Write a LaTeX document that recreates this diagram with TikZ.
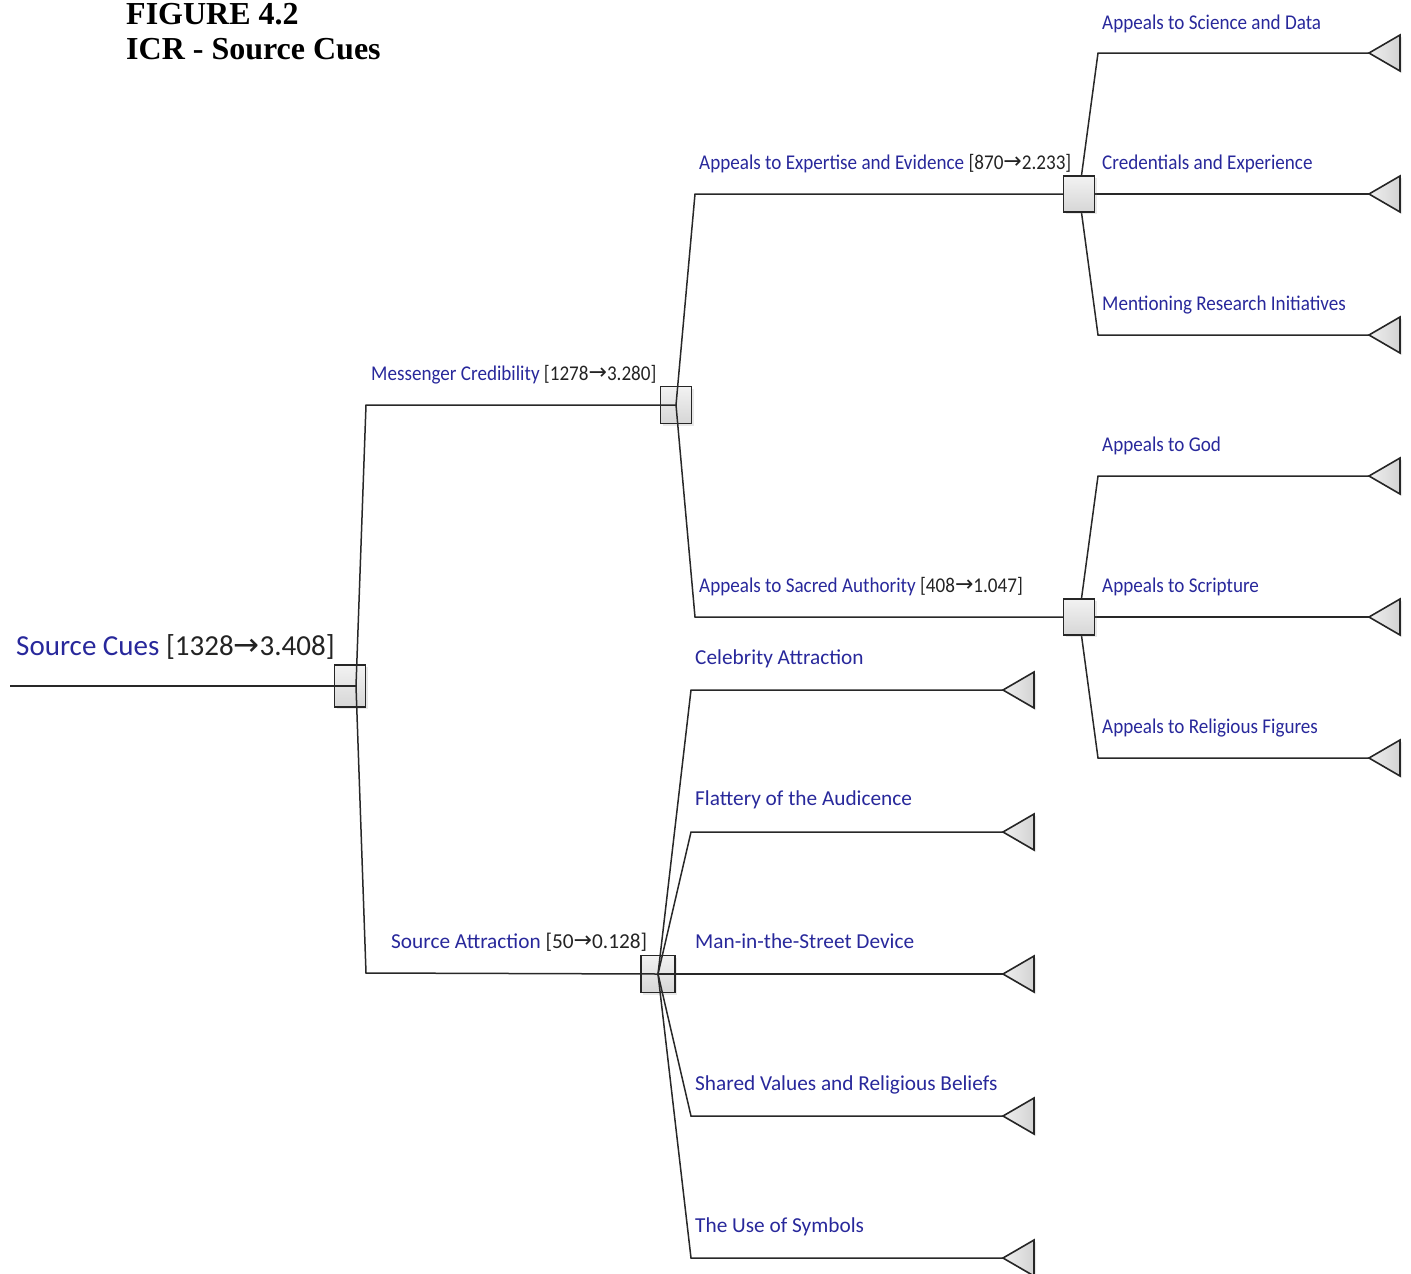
\documentclass[tikz,border=0pt]{standalone}
\usepackage{fontspec}
\setmainfont{Liberation Serif}
\newfontfamily\lab{Carlito}
\newfontfamily\labn[FakeStretch=0.91]{Carlito}
\newfontfamily\arr{DejaVu Sans}
\usetikzlibrary{shadows}
\definecolor{lblue}{RGB}{40,40,155}
\definecolor{lnum}{RGB}{35,35,35}
\definecolor{lnline}{RGB}{40,40,40}
\pgfdeclarelayer{front}
\pgfsetlayers{main,front}
\newcommand{\ar}{{\arr\fontsize{22}{22}\selectfont\raisebox{0.5pt}{→}}}
\tikzset{
  conn/.style={draw=lnline, line width=1.5pt},
  dbox/.style={draw=black!85, line width=1.5pt, top color=gray!10, bottom color=gray!32,
     minimum width=31pt, minimum height=37pt, inner sep=0pt,
     drop shadow={opacity=0.18, shadow xshift=2pt, shadow yshift=-2pt}},
  leaf/.style={draw=black!85, line width=1.6pt, left color=gray!12, right color=gray!35,
     drop shadow={opacity=0.18, shadow xshift=2pt, shadow yshift=-2pt}},
  nlab/.style={anchor=base west, inner sep=0pt, text=lblue, font=\labn\fontsize{21}{21}\selectfont},
  wlab/.style={anchor=base west, inner sep=0pt, text=lblue, font=\lab\fontsize{21.3}{21}\selectfont},
}
\newcommand{\num}[1]{\textcolor{lnum}{#1}}
\begin{document}
\begin{tikzpicture}[x=1pt,y=-1pt]
\useasboundingbox (0,0) rectangle (1411,1274);
% title
\node[anchor=base west, inner sep=0pt, font=\bfseries\fontsize{32}{32}\selectfont] (t1) at (126,24) {FIGURE 4.2};
\node[anchor=base west, inner sep=0pt, font=\bfseries\fontsize{32}{32}\selectfont] (t2) at (126,59) {ICR - Source Cues};

% decision boxes drawn under their connectors
\node[dbox, minimum height=42pt] (root) at (350,686) {};
\node[dbox] (mc) at (676,405) {};
\node[dbox, minimum width=34pt] (sa) at (658,974) {};
% decision boxes drawn over their connectors
\begin{pgfonlayer}{front}
\node[dbox, minimum height=36pt] (ex) at (1079,194) {};
\node[dbox, minimum height=36pt] (sc) at (1079,617) {};
\end{pgfonlayer}

% leaf tips
\foreach \n/\x/\y in {l1/1369/53, l2/1369/194, l3/1369/335, l4/1369/476, l5/1369/617, l6/1369/758,
                      m1/1003/690, m2/1003/832, m3/1003/974, m4/1003/1116, m5/1003/1258}{
  \coordinate (\n) at (\x,\y);
  \draw[leaf] (\n) -- ++(31,-18) -- ++(0,36) -- cycle;
}
\coordinate (in) at (10,686);

% connectors
\draw[conn] (in) -- ([xshift=6pt]root.center);
\draw[conn] ([xshift=6pt]root.center) -- (366,405) -- (mc.center);
\draw[conn] ([xshift=6pt]root.center) -- (366,973) -- (sa.center);
\draw[conn] (mc.center) -- (695,194) -- (ex.center);
\draw[conn] (mc.center) -- (695,617) -- (sc.center);
\draw[conn] (ex.center) -- (1098,53) -- (l1);
\draw[conn] (ex.center) -- (l2);
\draw[conn] (ex.center) -- (1098,335) -- (l3);
\draw[conn] (sc.center) -- (1098,476) -- (l4);
\draw[conn] (sc.center) -- (l5);
\draw[conn] (sc.center) -- (1098,758) -- (l6);
\draw[conn] (sa.center) -- (691,690) -- (m1);
\draw[conn] (sa.center) -- (691,832) -- (m2);
\draw[conn] (sa.center) -- (m3);
\draw[conn] (sa.center) -- (691,1116) -- (m4);
\draw[conn] (sa.center) -- (691,1258) -- (m5);

% labels
\node[anchor=base west, inner sep=0pt, text=lblue, font=\lab\fontsize{29}{29}\selectfont] (lroot) at (16,655)
  {Source Cues \num{[1328{\arr\fontsize{31}{31}\selectfont→}3.408]}};
\node[nlab] (lmc) at (371,380) {Messenger Credibility \num{[1278\ar3.280]}};
\node[wlab] (lsa) at (391,948) {Source Attraction \num{[50\ar0.128]}};
\node[nlab] (lex) at (699,169) {Appeals to Expertise and Evidence \num{[870\ar2.233]}};
\node[nlab] (lsc) at (699,592) {Appeals to Sacred Authority \num{[408\ar1.047]}};
\node[nlab] (ll1) at (1102,29) {Appeals to Science and Data};
\node[nlab] (ll2) at (1102,169) {Credentials and Experience};
\node[nlab] (ll3) at (1102,310) {Mentioning Research Initiatives};
\node[nlab] (ll4) at (1102,451) {Appeals to God};
\node[nlab] (ll5) at (1102,592) {Appeals to Scripture};
\node[nlab] (ll6) at (1102,733) {Appeals to Religious Figures};
\node[wlab] (lm1) at (695,664) {Celebrity Attraction};
\node[wlab] (lm2) at (695,805) {Flattery of the Audicence};
\node[wlab] (lm3) at (695,948) {Man-in-the-Street Device};
\node[wlab] (lm4) at (695,1090) {Shared Values and Religious Beliefs};
\node[wlab] (lm5) at (695,1232) {The Use of Symbols};
\end{tikzpicture}
\end{document}
